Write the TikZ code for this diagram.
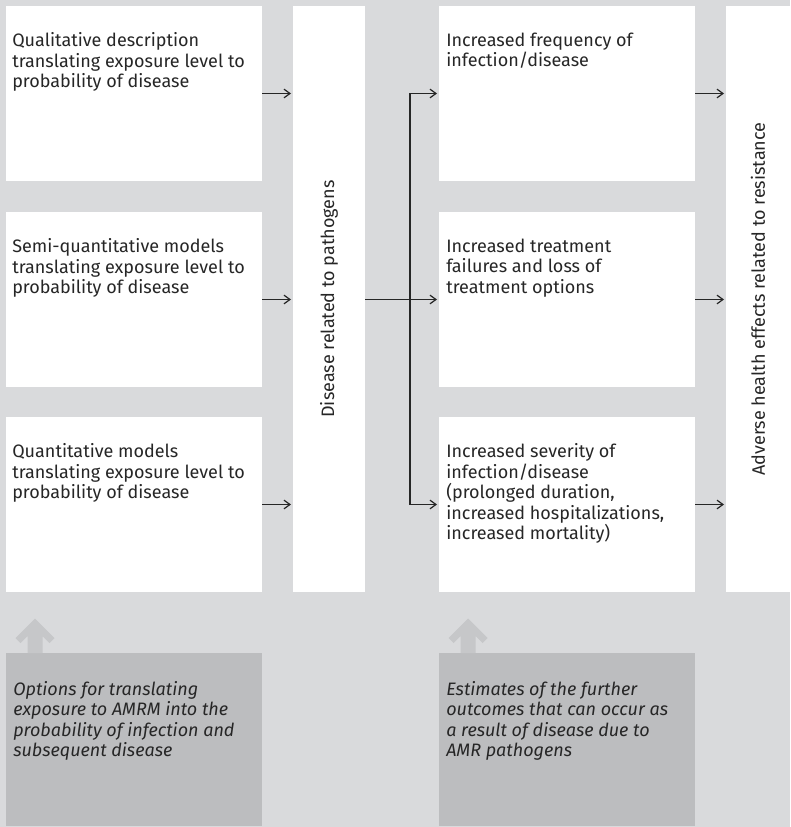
\documentclass[tikz,border=0pt]{standalone}
\usepackage{fontspec}
\setmainfont{Fira Sans}
\usetikzlibrary{arrows.meta,calc}
\definecolor{bg}{HTML}{D9DADC}
\definecolor{greybox}{HTML}{BCBDBF}
\definecolor{greyarrow}{HTML}{C6C7C9}
\definecolor{ink}{HTML}{262626}
\tikzset{
  wbox/.style={fill=white, draw=none, anchor=north west, inner sep=0, outer sep=0},
  gbox/.style={fill=greybox, draw=none, anchor=north west, inner sep=0, outer sep=0},
  txt/.style={anchor=north west, inner sep=0, align=left, text=ink,
    font=\fontsize{13.5}{15.4}\selectfont},
  itxt/.style={txt, font=\fontsize{13.5}{15.4}\selectfont\itshape},
  vtxt/.style={rotate=90, inner sep=0, text=ink, font=\fontsize{13.5}{15.4}\selectfont},
  arr/.style={draw=ink, line width=0.9pt, -{Straight Barb[length=4.5pt,width=6.5pt]}, shorten >=1.5pt},
  uparrow/.style={fill=greyarrow, draw=none}
}
\begin{document}
\begin{tikzpicture}[x=0.75pt,y=-0.75pt]
\fill[bg] (0,0) rectangle (790,827);
\useasboundingbox (0,0) rectangle (790,827);

% left column
\node[wbox, minimum width=192pt, minimum height=131.25pt] (q1) at (6,6) {};
\node[wbox, minimum width=192pt, minimum height=131.25pt] (q2) at (6,212) {};
\node[wbox, minimum width=192pt, minimum height=131.25pt] (q3) at (6,417) {};
% tall middle
\node[wbox, minimum width=54pt, minimum height=439.5pt] (dis) at (293,6) {};
% right column
\node[wbox, minimum width=192pt, minimum height=131.25pt] (o1) at (439,6) {};
\node[wbox, minimum width=192pt, minimum height=131.25pt] (o2) at (439,212) {};
\node[wbox, minimum width=192pt, minimum height=131.25pt] (o3) at (439,417) {};
% tall right
\node[wbox, minimum width=48pt, minimum height=439.5pt] (adv) at (726,6) {};
% bottom grey boxes
\node[gbox, minimum width=192pt, minimum height=130pt] (n1) at (6,653) {};
\node[gbox, minimum width=192pt, minimum height=130pt] (n2) at (439,653) {};

% texts
\node[txt] (q1t) at ($(q1.north west)+(6,26.5)$) {Qualitative description\\translating exposure level to\\probability of disease};
\node[txt] (q2t) at ($(q2.north west)+(6,26.5)$) {Semi-quantitative models\\translating exposure level to\\probability of disease};
\node[txt] (q3t) at ($(q3.north west)+(6,26.5)$) {Quantitative models\\translating exposure level to\\probability of disease};
\node[txt] (o1t) at ($(o1.north west)+(7,26.5)$) {Increased frequency of\\infection/disease};
\node[txt] (o2t) at ($(o2.north west)+(7,26.5)$) {Increased treatment\\failures and loss of\\treatment options};
\node[txt] (o3t) at ($(o3.north west)+(7,26.5)$) {Increased severity of\\infection/disease\\(prolonged duration,\\increased hospitalizations,\\increased mortality)};
\node[vtxt] (dist) at (dis.center) {Disease related to pathogens};
\node[vtxt] (advt) at (adv.center) {Adverse health effects related to resistance};
\node[itxt] (n1t) at ($(n1.north west)+(7,28)$) {Options for translating\\exposure to AMRM into the\\probability of infection and\\subsequent disease};
\node[itxt] (n2t) at ($(n2.north west)+(7,28)$) {Estimates of the further\\outcomes that can occur as\\a result of disease due to\\AMR pathogens};

% connectors left -> disease
\draw[arr] (q1.east) -- (q1.east -| dis.west);
\draw[arr] (q2.east) -- (q2.east -| dis.west);
\draw[arr] (q3.east) -- (q3.east -| dis.west);
% disease -> outcomes
\coordinate (split) at (410,300);
\draw[arr] (dis.east |- o2.west) -- (o2.west);
\draw[arr] (split |- o2.west) -- (split |- o1.west) -- (o1.west);
\draw[arr] (split |- o2.west) -- (split |- o3.west) -- (o3.west);
% outcomes -> adverse
\draw[arr] (o1.east) -- (o1.east -| adv.west);
\draw[arr] (o2.east) -- (o2.east -| adv.west);
\draw[arr] (o3.east) -- (o3.east -| adv.west);

% grey up arrows
\foreach \bx/\nm in {n1/ua1, n2/ua2}{
  \path ($(\bx.north west)+(29,0)$) coordinate (\nm);
  \fill[uparrow] (\nm) ++(-7.5,0) -- ++(0,-17) -- ++(-7,7) -- ++(-5,-5) -- ++(19.5,-19.5)
     -- ++(19.5,19.5) -- ++(-5,5) -- ++(-7,-7) -- ++(0,17) -- cycle;
}
\end{tikzpicture}
\end{document}
